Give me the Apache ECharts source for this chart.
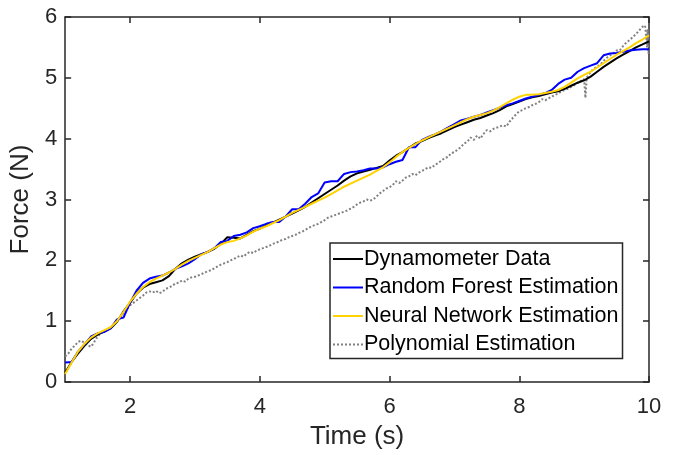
<!DOCTYPE html>
<html>
<head>
<meta charset="utf-8">
<script src="https://cdn.jsdelivr.net/npm/echarts@6/dist/echarts.min.js"></script>
<style>
html,body{margin:0;padding:0;background:#fff;}
#chart{width:674px;height:455px;}
</style>
</head>
<body>
<div id="chart"></div>
<script>
// ---- data ----
const time = [1.0,1.1,1.2,1.3,1.4,1.5,1.6,1.7,1.8,1.9,2.0,2.1,2.2,2.3,2.4,2.5,2.6,2.7,2.8,2.9,
  3.0,3.1,3.2,3.3,3.4,3.5,3.6,3.7,3.8,3.9,4.0,4.1,4.2,4.3,4.4,4.5,4.6,4.7,4.8,4.9,
  5.0,5.1,5.2,5.3,5.4,5.5,5.6,5.7,5.8,5.9,6.0,6.1,6.2,6.3,6.4,6.5,6.6,6.7,6.8,6.9,
  7.0,7.1,7.2,7.3,7.4,7.5,7.6,7.7,7.8,7.9,8.0,8.1,8.2,8.3,8.4,8.5,8.6,8.7,8.8,8.9,
  9.0,9.1,9.2,9.3,9.4,9.5,9.6,9.7,9.8,9.9,10.0];

const dynamometer = [0.15,0.33,0.47,0.60,0.71,0.78,0.83,0.88,0.99,1.16,1.30,1.45,1.55,1.61,1.64,1.67,1.74,1.86,1.95,2.01,
  2.06,2.10,2.14,2.19,2.27,2.38,2.37,2.36,2.42,2.48,2.52,2.57,2.62,2.67,2.72,2.77,2.82,2.88,2.95,3.02,
  3.09,3.16,3.23,3.31,3.38,3.43,3.46,3.49,3.52,3.55,3.64,3.72,3.78,3.85,3.92,3.96,4.01,4.05,4.09,4.14,
  4.19,4.23,4.27,4.31,4.34,4.38,4.42,4.47,4.53,4.57,4.61,4.65,4.68,4.70,4.73,4.76,4.78,4.82,4.87,4.92,
  4.96,5.02,5.10,5.18,5.25,5.32,5.38,5.44,5.50,5.55,5.60];

const randomForest = [0.32,0.33,0.50,0.62,0.75,0.80,0.82,0.88,1.03,1.06,1.30,1.50,1.63,1.70,1.73,1.75,1.80,1.86,1.90,1.95,
  2.02,2.10,2.14,2.20,2.30,2.32,2.40,2.42,2.46,2.53,2.56,2.60,2.63,2.63,2.72,2.84,2.84,2.93,3.04,3.10,
  3.28,3.30,3.30,3.42,3.45,3.46,3.48,3.51,3.51,3.53,3.58,3.62,3.65,3.86,3.86,3.98,4.03,4.07,4.12,4.18,
  4.24,4.30,4.33,4.36,4.39,4.43,4.47,4.51,4.55,4.58,4.62,4.66,4.69,4.72,4.75,4.80,4.90,4.97,5.00,5.10,
  5.16,5.20,5.24,5.37,5.40,5.41,5.43,5.45,5.46,5.47,5.47];

const neuralNetwork = [0.13,0.32,0.50,0.63,0.73,0.80,0.85,0.90,1.00,1.15,1.32,1.45,1.56,1.64,1.70,1.75,1.80,1.86,1.93,1.99,
  2.04,2.09,2.14,2.20,2.26,2.30,2.32,2.36,2.41,2.47,2.52,2.56,2.61,2.66,2.72,2.78,2.83,2.88,2.93,2.98,
  3.03,3.09,3.15,3.21,3.26,3.31,3.36,3.41,3.47,3.53,3.61,3.70,3.78,3.85,3.91,3.97,4.02,4.07,4.12,4.17,
  4.22,4.27,4.32,4.36,4.39,4.42,4.46,4.52,4.58,4.64,4.69,4.72,4.72,4.73,4.75,4.77,4.80,4.85,4.92,4.99,
  5.05,5.10,5.17,5.24,5.31,5.38,5.44,5.50,5.57,5.63,5.70];

const polyTime = [1.00,1.05,1.10,1.15,1.20,1.25,1.30,1.35,1.40,1.45,1.50,1.55,1.60,1.65,1.70,1.75,1.80,1.85,1.90,1.95,
  2.00,2.05,2.10,2.15,2.20,2.25,2.30,2.35,2.40,2.45,2.50,2.55,2.60,2.65,2.70,2.75,2.80,2.85,2.90,2.95,
  3.00,3.05,3.10,3.15,3.20,3.25,3.30,3.35,3.40,3.45,3.50,3.55,3.60,3.65,3.70,3.75,3.80,3.85,3.90,3.95,
  4.00,4.05,4.10,4.15,4.20,4.25,4.30,4.35,4.40,4.45,4.50,4.55,4.60,4.65,4.70,4.75,4.80,4.85,4.90,4.95,
  5.00,5.05,5.10,5.15,5.20,5.25,5.30,5.35,5.40,5.45,5.50,5.55,5.60,5.65,5.70,5.75,5.80,5.85,5.90,5.95,
  6.00,6.05,6.10,6.15,6.20,6.25,6.30,6.35,6.40,6.45,6.50,6.55,6.60,6.65,6.70,6.75,6.80,6.85,6.90,6.95,
  7.00,7.05,7.10,7.15,7.20,7.25,7.30,7.35,7.40,7.45,7.50,7.55,7.60,7.65,7.70,7.75,7.80,7.85,7.90,7.95,
  8.00,8.05,8.10,8.15,8.20,8.25,8.30,8.35,8.40,8.45,8.50,8.55,8.60,8.65,8.70,8.75,8.80,8.85,8.90,8.95,
  9.00,9.02,9.04,9.06,9.10,9.15,9.20,9.25,9.30,9.35,9.40,9.45,9.50,9.55,9.60,9.65,9.70,9.75,9.80,9.85,9.90,
  9.94,9.96,9.97,9.98,9.99,10.00];

const polynomial = [0.42,0.47,0.55,0.60,0.66,0.68,0.64,0.60,0.58,0.66,0.75,0.80,0.83,0.86,0.90,0.94,1.00,1.06,1.14,1.20,
  1.26,1.30,1.34,1.38,1.42,1.47,1.49,1.47,1.50,1.46,1.48,1.53,1.55,1.58,1.62,1.63,1.67,1.65,1.70,1.72,
  1.73,1.75,1.77,1.80,1.82,1.84,1.87,1.90,1.93,1.95,1.97,2.00,2.02,2.05,2.08,2.06,2.11,2.14,2.12,2.16,
  2.18,2.20,2.22,2.24,2.27,2.29,2.31,2.34,2.35,2.38,2.40,2.42,2.45,2.47,2.50,2.53,2.56,2.58,2.60,2.63,
  2.66,2.70,2.72,2.74,2.76,2.78,2.80,2.82,2.85,2.88,2.92,2.95,2.97,3.00,2.98,3.00,3.05,3.10,3.14,3.18,
  3.20,3.24,3.30,3.27,3.31,3.36,3.38,3.42,3.40,3.44,3.47,3.50,3.53,3.52,3.57,3.60,3.64,3.68,3.70,3.76,
  3.78,3.82,3.86,3.92,3.95,4.02,3.98,4.05,4.00,4.08,4.14,4.12,4.16,4.18,4.20,4.22,4.20,4.28,4.34,4.40,
  4.45,4.47,4.50,4.52,4.55,4.57,4.60,4.65,4.63,4.66,4.69,4.72,4.74,4.78,4.80,4.82,4.85,4.88,4.92,4.95,
  4.98,4.67,5.00,5.02,5.10,5.15,5.18,5.22,5.28,5.33,5.37,5.40,5.45,5.45,5.52,5.58,5.62,5.67,5.72,5.78,5.84,
  5.86,5.86,5.50,5.80,5.40,5.45];

const xTicks = [2, 4, 6, 8, 10];
const seriesNames = ['Dynamometer Data', 'Random Forest Estimation', 'Neural Network Estimation', 'Polynomial Estimation'];

// ---- chart ----
const zip = (xs, ys) => xs.map((x, i) => [x, ys[i]]);
const FONT = 'Liberation Sans, Arial, Helvetica, sans-serif';
const AX = '#262626';

const chart = echarts.init(document.getElementById('chart'), null, {renderer: 'canvas'});
const baseX = {
  type: 'value', min: 1, max: 10,
  axisLine: {show: true, onZero: false, lineStyle: {color: AX, width: 1.5}},
  axisTick: {show: true, inside: true, length: 6, customValues: xTicks, lineStyle: {color: AX, width: 1.5}},
  splitLine: {show: false}
};
const baseY = {
  type: 'value', min: 0, max: 6, interval: 1,
  axisLine: {show: true, onZero: false, lineStyle: {color: AX, width: 1.5}},
  axisTick: {show: true, inside: true, length: 6, lineStyle: {color: AX, width: 1.5}},
  splitLine: {show: false}
};
chart.setOption({
  animation: false,
  backgroundColor: '#fff',
  textStyle: {fontFamily: FONT},
  grid: {left: 64, right: 25, top: 17, bottom: 73, containLabel: false},
  xAxis: [
    Object.assign({}, baseX, {
      position: 'bottom',
      name: 'Time (s)', nameLocation: 'middle', nameGap: 42,
      nameTextStyle: {fontSize: 26, color: AX, fontFamily: FONT},
      axisLabel: {show: true, customValues: xTicks, margin: 14, fontSize: 22, color: AX, fontFamily: FONT}
    }),
    Object.assign({}, baseX, {position: 'top', axisLabel: {show: false}})
  ],
  yAxis: [
    Object.assign({}, baseY, {
      position: 'left',
      name: 'Force (N)', nameLocation: 'middle', nameGap: 23,
      nameTextStyle: {fontSize: 26, color: AX, fontFamily: FONT},
      axisLabel: {show: true, margin: 8, fontSize: 22, color: AX, fontFamily: FONT}
    }),
    Object.assign({}, baseY, {position: 'right', axisLabel: {show: false}})
  ],
  legend: {
    orient: 'vertical', left: 330, top: 243,
    padding: [5, 4, 3, 2], itemGap: 6.5, itemWidth: 30, itemHeight: 10,
    backgroundColor: '#fff', borderColor: AX, borderWidth: 1.5, borderRadius: 0,
    itemStyle: {opacity: 0},
    textStyle: {fontSize: 21.5, color: '#000', fontFamily: FONT, padding: [0, 0, 0, -4]},
    data: seriesNames
  },
  series: [
    {name: seriesNames[3], type: 'line', data: zip(polyTime, polynomial), symbol: 'none', z: 1,
     lineStyle: {color: '#808080', width: 2, type: 'dotted'}, itemStyle: {color: '#808080'}},
    {name: seriesNames[0], type: 'line', data: zip(time, dynamometer), symbol: 'none', z: 2,
     lineStyle: {color: '#000000', width: 2}, itemStyle: {color: '#000000'}},
    {name: seriesNames[1], type: 'line', data: zip(time, randomForest), symbol: 'none', z: 3,
     lineStyle: {color: '#0000ff', width: 2}, itemStyle: {color: '#0000ff'}},
    {name: seriesNames[2], type: 'line', data: zip(time, neuralNetwork), symbol: 'none', z: 4,
     lineStyle: {color: '#ffd200', width: 2}, itemStyle: {color: '#ffd200'}}
  ]
});
</script>
</body>
</html>
